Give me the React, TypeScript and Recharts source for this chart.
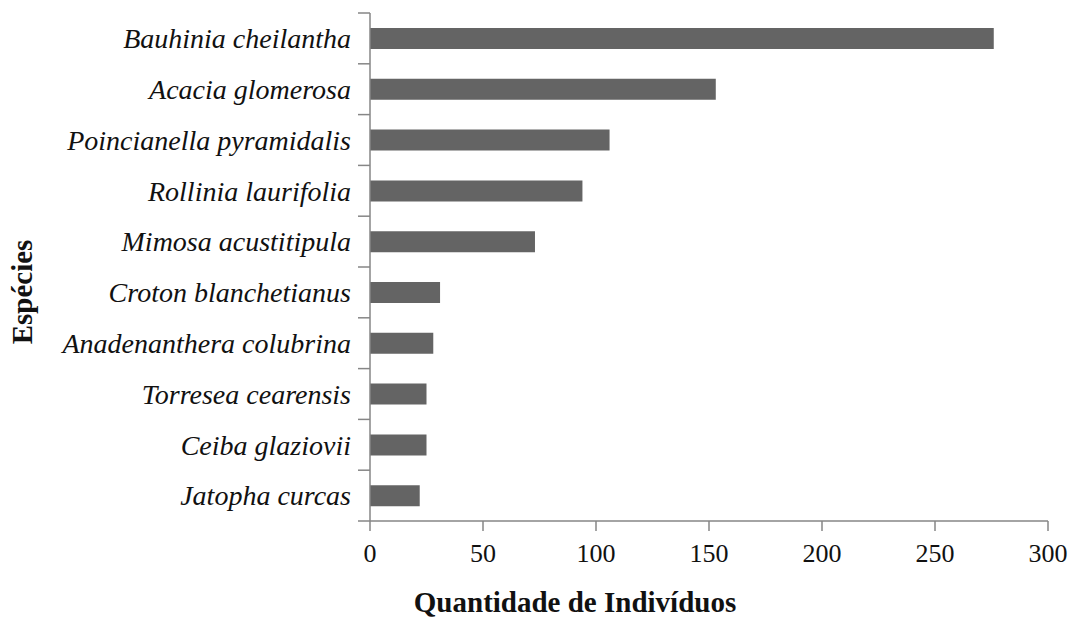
import { Bar, BarChart, Label, XAxis, YAxis } from 'recharts';

const species = [
  'Bauhinia cheilantha',
  'Acacia glomerosa',
  'Poincianella pyramidalis',
  'Rollinia laurifolia',
  'Mimosa acustitipula',
  'Croton blanchetianus',
  'Anadenanthera colubrina',
  'Torresea cearensis',
  'Ceiba glaziovii',
  'Jatopha curcas',
];
const individuals = [276, 153, 106, 94, 73, 31, 28, 25, 25, 22];
const xTicks = [0, 50, 100, 150, 200, 250, 300];

const data = species.map((name, i) => ({ name, value: individuals[i] }));

const AXIS = '#868686';
const SERIF = '"Liberation Serif", serif';
const PLOT_LEFT = 370;
const BAND = (521 - 13) / species.length;

function SpeciesTick(props: any) {
  const { y, payload, index } = props;
  const top = y - BAND / 2;
  return (
    <g>
      <line x1={PLOT_LEFT - 12} x2={PLOT_LEFT} y1={top} y2={top} stroke={AXIS} strokeWidth={1.5} />
      {index === species.length - 1 && (
        <line x1={PLOT_LEFT - 12} x2={PLOT_LEFT} y1={top + BAND} y2={top + BAND} stroke={AXIS} strokeWidth={1.5} />
      )}
      <text
        x={PLOT_LEFT - 19}
        y={y}
        dy="0.35em"
        textAnchor="end"
        fontFamily={SERIF}
        fontStyle="italic"
        fontSize={28}
        fill="#111"
      >
        {payload.value}
      </text>
    </g>
  );
}

export default function App() {
  return (
    <div style={{ position: 'absolute', left: 0, top: 0, background: '#fff' }}>
      <BarChart
        width={1070}
        height={620}
        data={data}
        layout="vertical"
        margin={{ top: 13, right: 22, left: 0, bottom: 0 }}
        barSize={21}
      >
        <XAxis
          type="number"
          domain={[0, 300]}
          ticks={xTicks}
          height={99}
          stroke={AXIS}
          strokeWidth={1.5}
          tickSize={10}
          tickMargin={13}
          tick={{ fill: '#111', fontFamily: SERIF, fontSize: 26 }}
        >
          <Label
            content={() => (
              <text
                x={575}
                y={612}
                textAnchor="middle"
                fontFamily={SERIF}
                fontWeight="bold"
                fontSize={29}
                fill="#111"
              >
                Quantidade de Indivíduos
              </text>
            )}
          />
        </XAxis>
        <YAxis
          type="category"
          dataKey="name"
          width={370}
          stroke={AXIS}
          strokeWidth={1.5}
          tickLine={false}
          tick={<SpeciesTick />}
          interval={0}
        >
          <Label
            content={() => (
              <text
                x={22}
                y={292}
                transform="rotate(-90 22 292)"
                textAnchor="middle"
                dy="0.35em"
                fontFamily={SERIF}
                fontWeight="bold"
                fontSize={29}
                fill="#111"
              >
                Espécies
              </text>
            )}
          />
        </YAxis>
        <Bar dataKey="value" fill="#646464" isAnimationActive={false} />
      </BarChart>
    </div>
  );
}
